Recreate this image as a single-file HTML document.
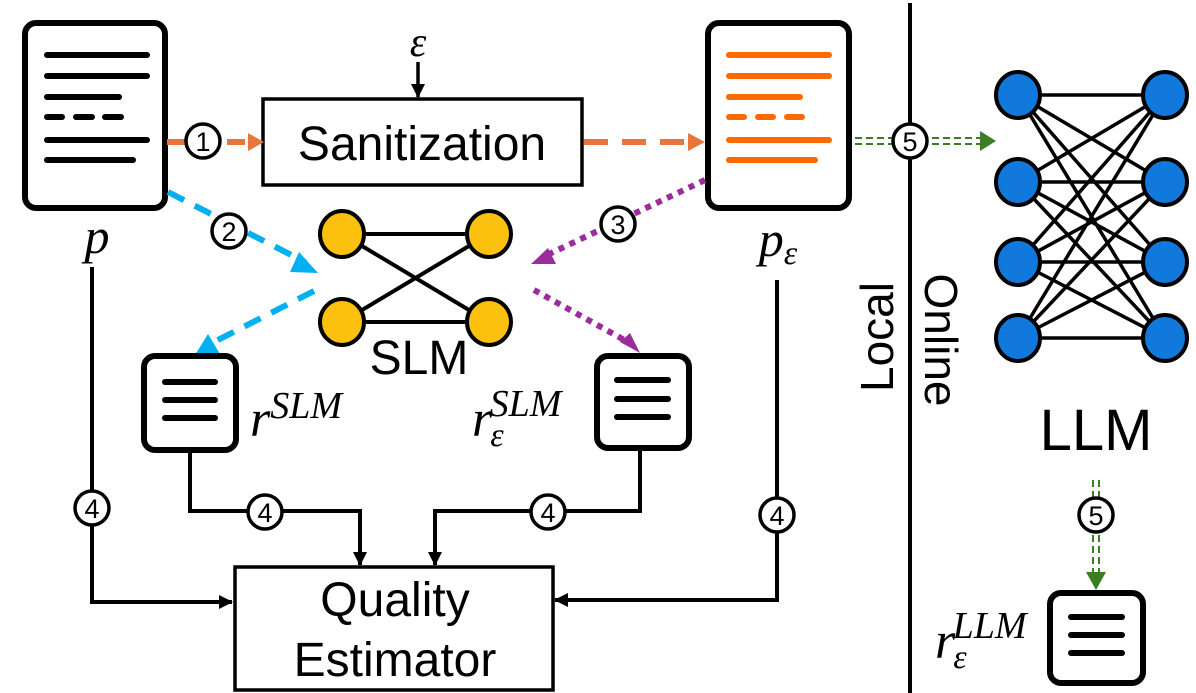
<!DOCTYPE html>
<html><head><meta charset="utf-8"><style>
html,body{margin:0;padding:0;background:#fff;}
svg{display:block;}
.s{font-family:"Liberation Sans",sans-serif;}
.m{font-family:"Liberation Serif",serif;font-style:italic;}
</style></head><body>
<svg width="1196" height="693" viewBox="0 0 1196 693" xmlns="http://www.w3.org/2000/svg">
<defs>
<marker id="ak" markerWidth="14" markerHeight="14" refX="13" refY="7" orient="auto" markerUnits="userSpaceOnUse"><path d="M0,0 L14,7 L0,14z" fill="#000"/></marker>
</defs>
<g stroke-linecap="round" fill="none">
<rect x="25" y="23" width="140" height="185" rx="11" stroke="#000" stroke-width="6" fill="#fff"/>
<g stroke="#000" stroke-width="6">
<line x1="47" y1="55" x2="147" y2="55"/><line x1="47" y1="76" x2="147" y2="76"/>
<line x1="47" y1="97" x2="119" y2="97"/>
<line x1="47" y1="117" x2="62" y2="117"/><line x1="76" y1="117" x2="92" y2="117"/><line x1="105" y1="117" x2="121" y2="117"/>
<line x1="47" y1="140" x2="147" y2="140"/><line x1="47" y1="160" x2="133" y2="160"/>
</g>
<rect x="708" y="23" width="141" height="185" rx="11" stroke="#000" stroke-width="6" fill="#fff"/>
<g stroke="#ff6a00" stroke-width="6">
<line x1="729" y1="55" x2="829" y2="55"/><line x1="729" y1="76" x2="829" y2="76"/>
<line x1="729" y1="97" x2="800" y2="97"/>
<line x1="729" y1="117" x2="744" y2="117"/><line x1="758" y1="117" x2="773" y2="117"/><line x1="787" y1="117" x2="802" y2="117"/>
<line x1="729" y1="140" x2="829" y2="140"/><line x1="729" y1="160" x2="815" y2="160"/>
</g>
</g>
<text x="97" y="253" class="m" font-size="50" text-anchor="middle">p</text>
<text x="778" y="256" class="m" font-size="50" text-anchor="middle">p<tspan font-size="34" dy="8">ε</tspan></text>

<rect x="263" y="99" width="319" height="86" fill="#fff" stroke="#000" stroke-width="3.5"/>
<text x="422" y="160" class="s" font-size="48" text-anchor="middle">Sanitization</text>
<text x="418" y="56" class="m" font-size="42" text-anchor="middle">ε</text>
<line x1="418" y1="62" x2="418" y2="97" stroke="#000" stroke-width="3.5" marker-end="url(#ak)"/>

<line x1="167" y1="142" x2="250" y2="142" stroke="#e8763a" stroke-width="6" stroke-dasharray="18,12"/>
<path d="M248,133 L264,142 L248,151z" fill="#e8763a"/>
<line x1="584" y1="142" x2="690" y2="142" stroke="#e8763a" stroke-width="6" stroke-dasharray="24,14"/>
<path d="M688,133 L705,142 L688,151z" fill="#e8763a"/>
<circle cx="203" cy="141" r="17" fill="#fff" stroke="#000" stroke-width="3.5"/>
<text x="203" y="151" class="s" font-size="27" text-anchor="middle">1</text>

<g stroke="#000" stroke-width="4">
<line x1="342" y1="234" x2="489" y2="234"/><line x1="342" y1="322" x2="489" y2="322"/>
<line x1="342" y1="234" x2="489" y2="322"/><line x1="489" y1="234" x2="342" y2="322"/>
</g>
<g fill="#fcc10f" stroke="#000" stroke-width="4">
<ellipse cx="342" cy="234" rx="22" ry="23"/><ellipse cx="489" cy="234" rx="22" ry="23"/>
<ellipse cx="342" cy="322" rx="22" ry="23"/><ellipse cx="489" cy="322" rx="22" ry="23"/>
</g>
<text x="419" y="374" class="s" font-size="48" text-anchor="middle">SLM</text>

<line x1="168" y1="192" x2="305" y2="262" stroke="#00b0f0" stroke-width="6" stroke-dasharray="18,12"/>
<path d="M299,252 L318,273 L290,272z" fill="#00b0f0"/>
<line x1="314" y1="291" x2="210" y2="344" stroke="#00b0f0" stroke-width="6" stroke-dasharray="18,12"/>
<path d="M208,334 L195,355 L220,354z" fill="#00b0f0"/>
<circle cx="229" cy="231" r="17" fill="#fff" stroke="#000" stroke-width="3.5"/>
<text x="229" y="241" class="s" font-size="27" text-anchor="middle">2</text>

<line x1="705" y1="180" x2="545" y2="256" stroke="#9b2c9b" stroke-width="6" stroke-dasharray="6,6"/>
<path d="M548,248 L531,264 L556,264z" fill="#9b2c9b"/>
<line x1="534" y1="290" x2="628" y2="342" stroke="#9b2c9b" stroke-width="6" stroke-dasharray="6,6"/>
<path d="M620,342 L640,353 L630,333z" fill="#9b2c9b"/>
<circle cx="618" cy="224" r="17" fill="#fff" stroke="#000" stroke-width="3.5"/>
<text x="618" y="234" class="s" font-size="27" text-anchor="middle">3</text>

<g stroke-linecap="round">
<rect x="144" y="356" width="92" height="94" rx="11" fill="#fff" stroke="#000" stroke-width="6"/>
<g stroke="#000" stroke-width="6"><line x1="165" y1="382" x2="215" y2="382"/><line x1="165" y1="400" x2="215" y2="400"/><line x1="165" y1="418" x2="215" y2="418"/></g>
<rect x="597" y="356" width="92" height="92" rx="11" fill="#fff" stroke="#000" stroke-width="6"/>
<g stroke="#000" stroke-width="6"><line x1="617" y1="380" x2="668" y2="380"/><line x1="617" y1="399" x2="668" y2="399"/><line x1="617" y1="417" x2="668" y2="417"/></g>
<rect x="1050" y="593" width="93" height="90" rx="11" fill="#fff" stroke="#000" stroke-width="6"/>
<g stroke="#000" stroke-width="6"><line x1="1071" y1="617" x2="1122" y2="617"/><line x1="1071" y1="635" x2="1122" y2="635"/><line x1="1071" y1="653" x2="1122" y2="653"/></g>
</g>
<text x="250" y="436" class="m" font-size="52">r<tspan font-size="38" dy="-18">SLM</tspan></text>
<text x="472" y="436" class="m" font-size="52">r<tspan font-size="34" dy="10" dx="-2">ε</tspan><tspan font-size="38" dy="-30" dx="-14">SLM</tspan></text>
<text x="935" y="658" class="m" font-size="52">r<tspan font-size="34" dy="10" dx="-2">ε</tspan><tspan font-size="38" dy="-30" dx="-14">LLM</tspan></text>

<rect x="235" y="567" width="318" height="123" fill="#fff" stroke="#000" stroke-width="3.5"/>
<text x="395" y="616" class="s" font-size="48" text-anchor="middle">Quality</text>
<text x="395" y="676" class="s" font-size="48" text-anchor="middle">Estimator</text>

<g stroke="#000" stroke-width="4" fill="none">
<polyline points="92,267 92,602 232,602" marker-end="url(#ak)"/>
<polyline points="190,451 190,511 360,511 360,565" marker-end="url(#ak)"/>
<polyline points="640,449 640,511 435,511 435,565" marker-end="url(#ak)"/>
<polyline points="777,280 777,600 555,600" marker-end="url(#ak)"/>
</g>
<g fill="#fff" stroke="#000" stroke-width="3.5">
<circle cx="92" cy="508" r="17"/><circle cx="265" cy="512" r="17"/><circle cx="548" cy="512" r="17"/><circle cx="777" cy="515" r="17"/>
</g>
<g class="s" font-size="27" text-anchor="middle">
<text x="92" y="518">4</text><text x="265" y="522">4</text><text x="548" y="522">4</text><text x="777" y="525">4</text>
</g>

<line x1="910" y1="3" x2="910" y2="693" stroke="#000" stroke-width="4"/>
<text transform="translate(893,337) rotate(-90)" class="s" font-size="46" text-anchor="middle">Local</text>
<text transform="translate(925,340) rotate(90)" class="s" font-size="46" text-anchor="middle">Online</text>

<g stroke="#3a7d22" stroke-width="2" stroke-dasharray="7,4">
<line x1="855" y1="138" x2="985" y2="138"/><line x1="855" y1="144" x2="985" y2="144"/>
<line x1="1093" y1="480" x2="1093" y2="578"/><line x1="1099" y1="480" x2="1099" y2="578"/>
</g>
<path d="M980,131 L996,141 L980,151z" fill="#3a7d22"/>
<path d="M1086,572 L1096,590 L1106,572z" fill="#3a7d22"/>
<circle cx="910" cy="141" r="17" fill="#fff" stroke="#000" stroke-width="3.5"/>
<text x="910" y="151" class="s" font-size="27" text-anchor="middle">5</text>
<circle cx="1096" cy="515" r="17" fill="#fff" stroke="#000" stroke-width="3.5"/>
<text x="1096" y="525" class="s" font-size="27" text-anchor="middle">5</text>

<g stroke="#000" stroke-width="3.5">
<line x1="1018" y1="95" x2="1165" y2="95"/><line x1="1018" y1="95" x2="1165" y2="182"/><line x1="1018" y1="95" x2="1165" y2="262"/><line x1="1018" y1="95" x2="1165" y2="338"/>
<line x1="1018" y1="182" x2="1165" y2="95"/><line x1="1018" y1="182" x2="1165" y2="182"/><line x1="1018" y1="182" x2="1165" y2="262"/><line x1="1018" y1="182" x2="1165" y2="338"/>
<line x1="1018" y1="262" x2="1165" y2="95"/><line x1="1018" y1="262" x2="1165" y2="182"/><line x1="1018" y1="262" x2="1165" y2="262"/><line x1="1018" y1="262" x2="1165" y2="338"/>
<line x1="1018" y1="338" x2="1165" y2="95"/><line x1="1018" y1="338" x2="1165" y2="182"/><line x1="1018" y1="338" x2="1165" y2="262"/><line x1="1018" y1="338" x2="1165" y2="338"/>
</g>
<g fill="#1178dc" stroke="#000" stroke-width="4">
<ellipse cx="1018" cy="95" rx="22" ry="23"/><ellipse cx="1165" cy="95" rx="22" ry="23"/>
<ellipse cx="1018" cy="182" rx="22" ry="23"/><ellipse cx="1165" cy="182" rx="22" ry="23"/>
<ellipse cx="1018" cy="262" rx="22" ry="23"/><ellipse cx="1165" cy="262" rx="22" ry="23"/>
<ellipse cx="1018" cy="338" rx="22" ry="23"/><ellipse cx="1165" cy="338" rx="22" ry="23"/>
</g>
<text x="1096" y="450" class="s" font-size="58" text-anchor="middle">LLM</text>
</svg>
</body></html>
